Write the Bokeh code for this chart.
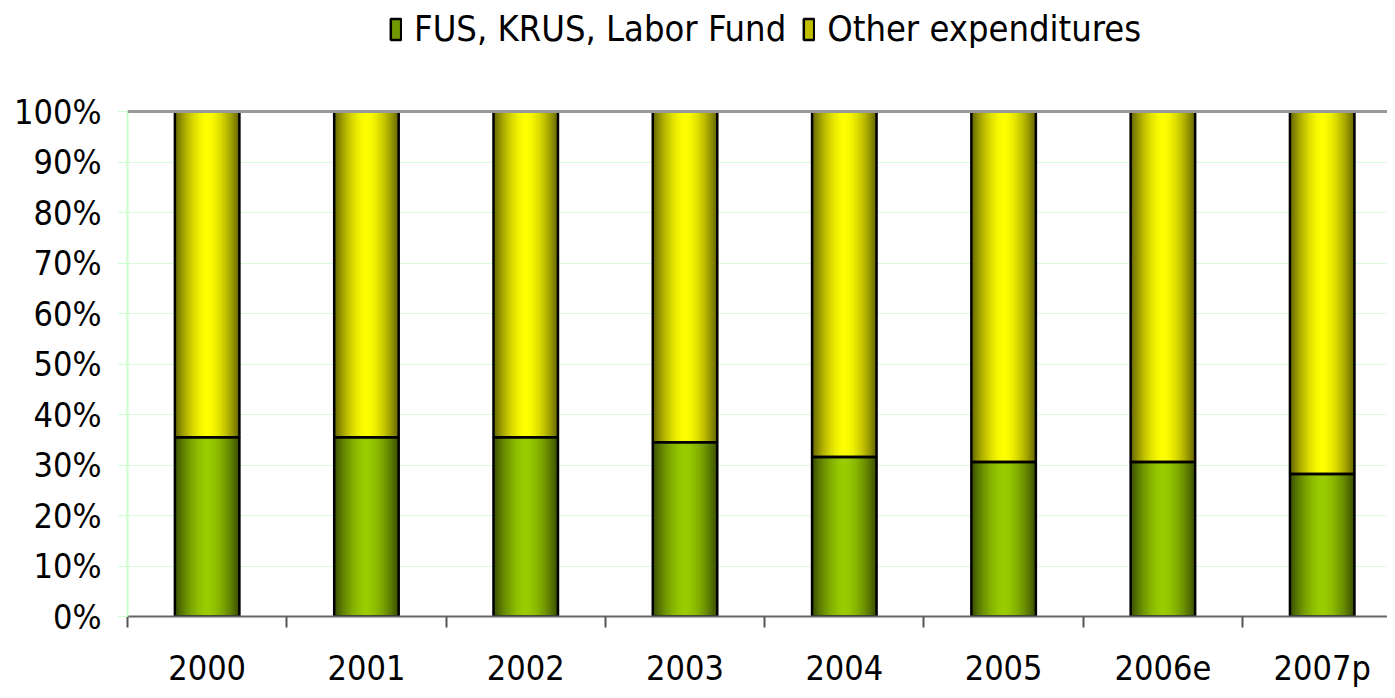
from bokeh.plotting import figure
from bokeh.models import (ColumnDataSource, Range1d, FixedTicker, Legend, LegendItem, Span)
from bokeh.embed import file_html
from bokeh.resources import INLINE

years = ["2000", "2001", "2002", "2003", "2004", "2005", "2006e", "2007p"]
fus = [35.5, 35.5, 35.5, 34.5, 31.6, 30.6, 30.6, 28.2]
other = [64.5, 64.5, 64.5, 65.5, 68.4, 69.4, 69.4, 71.8]
y_ticks = [0, 10, 20, 30, 40, 50, 60, 70, 80, 90, 100]

FONT = "DejaVu Sans Condensed"
FS = "34px"

xc = [i + 0.5 for i in range(len(years))]
top_all = [a + b for a, b in zip(fus, other)]
src = ColumnDataSource(dict(x=xc, fus=fus, total=top_all, zero=[0] * len(xc)))

# frame reaches the top of the canvas; the band above 100% holds the legend
p = figure(width=1387, height=690, output_backend="svg", toolbar_location=None,
           x_range=Range1d(0, 7.91), y_range=Range1d(0, 122.0),
           min_border_left=127, min_border_right=0, min_border_top=0, min_border_bottom=73)
p.outline_line_color = None
p.background_fill_color = "white"

W = 0.405
N = 30

def mix(c1, c2, t):
    return "#%02x%02x%02x" % tuple(int(round(a + (b - a) * t)) for a, b in zip(c1, c2))

g_edge, g_mid = (0x3a, 0x50, 0x00), (0x9a, 0xcc, 0x00)
y_edge, y_mid = (0x66, 0x66, 0x00), (0xff, 0xff, 0x00)

g_layers, y_layers = [], []
for k in range(N):
    frac = 1 - k / N
    b = 1 - frac ** 1.7
    rg = p.vbar(x="x", width=W * frac, bottom="zero", top="fus", source=src,
                fill_color=mix(g_edge, g_mid, b), line_color=None)
    ry = p.vbar(x="x", width=W * frac, bottom="fus", top="total", source=src,
                fill_color=mix(y_edge, y_mid, b), line_color=None)
    g_layers.append(rg)
    y_layers.append(ry)

og = p.vbar(x="x", width=W, bottom="zero", top="fus", source=src, fill_color=None,
            line_color="black", line_width=2.5)
oy = p.vbar(x="x", width=W, bottom="fus", top="total", source=src, fill_color=None,
            line_color="black", line_width=2.5)

top_line = Span(location=100, dimension="width", line_color="#999999", line_width=3)
p.add_layout(top_line)

p.xaxis.ticker = FixedTicker(ticks=xc, minor_ticks=list(range(len(years) + 1)))
p.xaxis.major_label_overrides = {x: y for x, y in zip(xc, years)}
p.xaxis.major_tick_line_color = None
p.xaxis.minor_tick_line_color = "#555555"
p.xaxis.minor_tick_out = 11
p.xaxis.minor_tick_in = 0
p.xaxis.minor_tick_line_width = 2
p.xaxis.axis_line_color = "#666666"
p.xaxis.axis_line_width = 2
p.xaxis.major_label_text_font = FONT
p.xaxis.major_label_text_font_size = FS
p.xaxis.major_label_text_color = "black"
p.xaxis.major_label_standoff = 20
p.xgrid.grid_line_color = None

p.yaxis.ticker = FixedTicker(ticks=y_ticks)
p.yaxis.bounds = (0, 100)
p.yaxis.major_label_overrides = {v: f"{v}%" for v in y_ticks}
p.yaxis.axis_line_color = "#ccffcc"
p.yaxis.axis_line_width = 2
p.yaxis.major_tick_line_color = "#ccffcc"
p.yaxis.major_tick_out = 10
p.yaxis.major_tick_in = 0
p.yaxis.minor_tick_line_color = None
p.yaxis.major_label_text_font = FONT
p.yaxis.major_label_text_font_size = FS
p.yaxis.major_label_text_color = "black"
p.yaxis.major_label_standoff = 16
p.ygrid.grid_line_color = "#d8fcd8"
p.ygrid.grid_line_width = 1

legend = Legend(items=[
    LegendItem(label="FUS, KRUS, Labor Fund", renderers=[g_layers[12], og]),
    LegendItem(label="Other expenditures", renderers=[y_layers[12], oy]),
], orientation="horizontal", location=(262, 567))
legend.glyph_width = 13
legend.glyph_height = 26
legend.label_text_font = FONT
legend.label_text_font_size = "36px"
legend.label_text_color = "black"
legend.label_standoff = 12
legend.spacing = 16
legend.padding = 0
legend.margin = 0
legend.border_line_color = None
legend.background_fill_alpha = 0
p.add_layout(legend, "center")

open("out.html", "w").write(file_html(p, INLINE))
